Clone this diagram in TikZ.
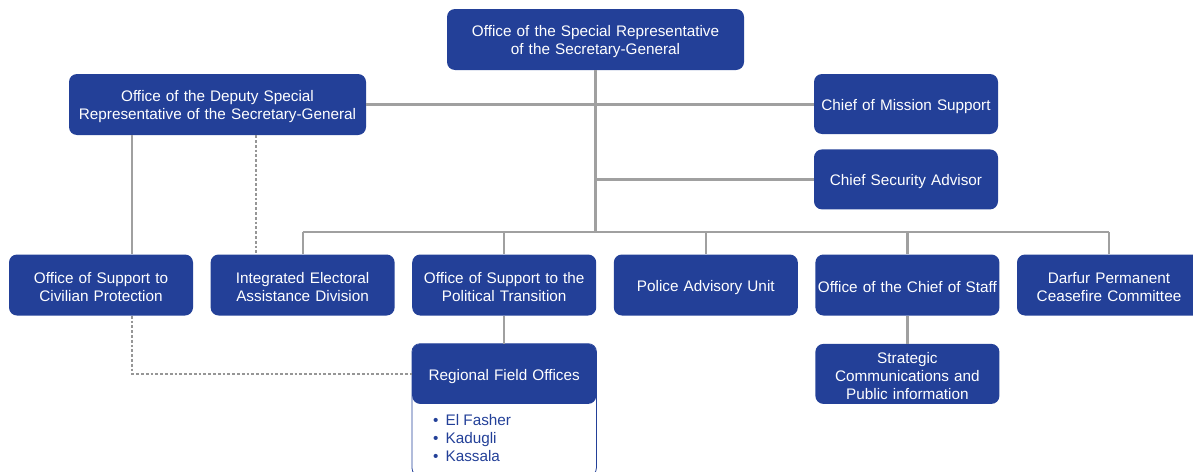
\documentclass[tikz,border=0pt]{standalone}
\usepackage{fontspec}
\setmainfont{Liberation Sans}
\usetikzlibrary{positioning}
\definecolor{unblue}{RGB}{35,64,152}
\definecolor{linegray}{RGB}{160,160,160}
\definecolor{dotgray}{RGB}{150,150,150}
\tikzset{
  office/.style={fill=unblue, text=white, rounded corners=8pt, align=center,
    minimum height=61pt, minimum width=184pt, text width=182pt, inner xsep=1pt,
    inner ysep=0pt, text height=15.6pt, font=\fontsize{15.3}{18}\selectfont},
  wide office/.style={office, minimum width=297pt, text width=295pt},
  link/.style={draw=linegray, line width=2.2pt},
  trunk/.style={link, line width=3pt},
  dotlink/.style={draw=dotgray, line width=2.6pt, dash pattern=on 2.8pt off 2pt},
}

\begin{document}
\begin{tikzpicture}[x=1pt, y=1pt, node distance=17.2pt]
\useasboundingbox (0,0) rectangle (1193,-471);
\node[wide office]                          (srsg)     at (595.5,-39.5) {Office of the Special Representative\\of the Secretary-General};
\node[wide office]                          (dsrsg)    at (217.5,-104.5) {Office of the Deputy Special\\Representative of the Secretary-General};
\node[office, minimum height=60pt]          (cms)      at (906,-104) {Chief of Mission Support};
\node[office, minimum height=60pt, below=15pt of cms] (csa) {Chief Security Advisor};
\node[office]                               (civ)      at (101,-285) {Office of Support to\\Civilian Protection};
\node[office, right=of civ]                 (iead)     {Integrated Electoral\\Assistance Division};
\node[office, right=of iead]                (ptrans)   {Office of Support to the\\Political Transition};
\node[office, right=of ptrans]              (police)   {Police Advisory Unit};
\node[office, right=of police]              (cos)      {Office of the Chief of Staff};
\node[office, right=of cos]                 (darfur)   {Darfur Permanent\\Ceasefire Committee};
\node[office, minimum height=60pt, below=28pt of ptrans] (rfo) {Regional Field Offices};
\node[office, minimum height=60pt, below=28pt of cos]    (stratcom) {Strategic\\Communications and\\Public information};
\node[anchor=north west, inner sep=0pt, align=left, text=unblue, font=\fontsize{15.3}{18}\selectfont]
     (rfolist) at ([xshift=21pt, yshift=-10pt]rfo.south west) {\textbullet\hspace{7pt}El Fasher\\\textbullet\hspace{7pt}Kadugli\\\textbullet\hspace{7pt}Kassala};
\draw[draw=unblue, line width=0.8pt, rounded corners=8pt] (rfo.north west) rectangle ([yshift=-72pt]rfo.south east);
\coordinate (bus) at (0,-232);

\draw[trunk] (srsg) -- (srsg|-bus);
\draw[link] (iead.north|-bus) -- (darfur.north|-bus);
\foreach \n in {iead,ptrans,police,cos,darfur}
  \draw[link] (\n.north|-bus) -- (\n);
\draw[link] (dsrsg.east) -- (dsrsg.east-|cms.west);
\draw[link] (srsg|-csa) -- (csa);
\draw[link] ([xshift=-85.5pt]dsrsg.south) -- ([xshift=-85.5pt]dsrsg.south|-civ.north);
\draw[dotlink] ([xshift=38.5pt]dsrsg.south) -- ([xshift=38.5pt]dsrsg.south|-iead.north);
\draw[dotlink] ([xshift=-85.5pt]dsrsg.south|-civ.south) |- (rfo);
\draw[link] (ptrans) -- (rfo);
\draw[link] (cos) -- (stratcom);
\end{tikzpicture}
\end{document}
